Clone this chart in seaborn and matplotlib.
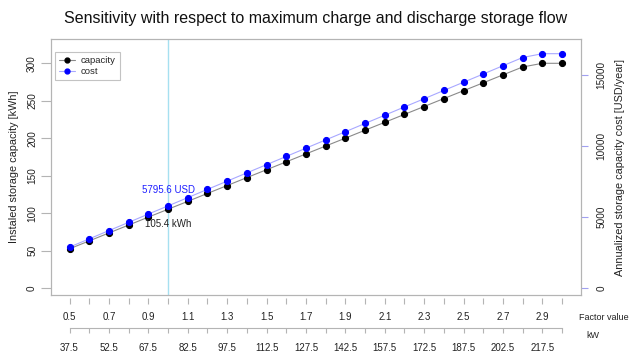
import numpy as np
import pandas as pd
import matplotlib
matplotlib.use("Agg")
import matplotlib.pyplot as plt
from matplotlib.lines import Line2D
import seaborn as sns

# ---------------- data ----------------
factor = [0.5, 0.6, 0.7, 0.8, 0.9, 1.0, 1.1, 1.2, 1.3, 1.4, 1.5, 1.6, 1.7,
          1.8, 1.9, 2.0, 2.1, 2.2, 2.3, 2.4, 2.5, 2.6, 2.7, 2.8, 2.9, 3.0]
capacity_kwh = [52.7, 63.2, 73.8, 84.3, 94.9, 105.4, 115.9, 126.5, 137.0,
                147.6, 158.1, 168.6, 179.2, 189.7, 200.2, 210.8, 221.3,
                231.9, 242.4, 253.0, 263.5, 274.0, 284.6, 295.1, 300.0, 300.0]
cost_usd = [2898, 3476, 4059, 4637, 5220, 5795.6, 6375, 6958, 7535, 8118,
            8696, 9273, 9856, 10434, 11011, 11594, 12172, 12755, 13332,
            13915, 14493, 15070, 15653, 16231, 16500, 16500]
factor_tick_labels = ["0.5", "", "0.7", "", "0.9", "", "1.1", "", "1.3", "",
                      "1.5", "", "1.7", "", "1.9", "", "2.1", "", "2.3", "",
                      "2.5", "", "2.7", "", "2.9", ""]
kw_tick_labels = ["37.5", "", "52.5", "", "67.5", "", "82.5", "", "97.5", "",
                  "112.5", "", "127.5", "", "142.5", "", "157.5", "", "172.5", "",
                  "187.5", "", "202.5", "", "217.5", ""]
left_ticks = [0, 50, 100, 150, 200, 250, 300]
right_ticks = [0, 5000, 10000, 15000]
sel_factor = 1.0
sel_capacity = 105.4
sel_cost = 5795.6

df = pd.DataFrame({"factor": factor, "capacity": capacity_kwh, "cost": cost_usd})

# ---------------- style ----------------
sns.set_theme(style="white")
plt.rcParams["font.family"] = ["Liberation Sans", "DejaVu Sans"]

W, H = 629, 352
fig = plt.figure(figsize=(W / 100, H / 100), dpi=100)
L, R, T, B = 51, 581, 39, 295
ax = fig.add_axes([L / W, 1 - B / H, (R - L) / W, (B - T) / H])
ax2 = ax.twinx()

box_col = "#b4b4b4"
cap_line = "#8a8a8a"
cost_line = "#a8a8ff"
vline_col = "#a6e0f0"

# vertical reference line
ax.axvline(sel_factor, color=vline_col, lw=1.0, zorder=0)

sns.lineplot(data=df, x="factor", y="capacity", ax=ax, color=cap_line, lw=0.8,
             marker="o", markersize=4.4, markerfacecolor="black",
             markeredgecolor="black", zorder=3)
sns.lineplot(data=df, x="factor", y="cost", ax=ax2, color=cost_line, lw=0.8,
             marker="o", markersize=4.4, markerfacecolor="#0000ff",
             markeredgecolor="#0000ff", zorder=3)

ax.set_xlim(0.406, 3.096)
ax.set_ylim(-8.93, 332.4)
ax2.set_ylim(-471, 17532)

for a in (ax, ax2):
    for s in a.spines.values():
        s.set_color(box_col)
        s.set_linewidth(0.8)

# y axes
ax.set_yticks(left_ticks)
ax.set_yticklabels([str(v) for v in left_ticks])
ax.tick_params(axis="y", left=True, length=7, width=0.8, color=box_col, pad=3,
               labelsize=7.2, labelrotation=90, labelcolor="#222222")
for t in ax.get_yticklabels():
    t.set_va("center")
ax2.set_yticks(right_ticks)
ax2.set_yticklabels([str(v) for v in right_ticks])
ax2.tick_params(axis="y", right=True, length=5, width=0.8, color="#a0a0f0", pad=6,
                labelsize=7.2, labelrotation=90, labelcolor="#222222")
for t in ax2.get_yticklabels():
    t.set_va("center")

ax.set_ylabel("Instaled storage capacity [kWh]", fontsize=7.8, color="#222222")
ax.yaxis.set_label_coords((19.3 - L) / (R - L), 0.5)
ax2.set_ylabel("Annualized storage capacity cost [USD/year]", fontsize=7.8,
               color="#222222", rotation=90)
ax2.yaxis.set_label_coords((615 - L) / (R - L), 0.5)

# x axes (two rows)
ax.tick_params(axis="x", bottom=False, labelbottom=False)
ax2.tick_params(axis="x", bottom=False, labelbottom=False)
ax.set_xlabel("")
ax2.set_xlabel("")

s1 = ax.secondary_xaxis(-3 / (B - T))
s1.set_ticks(factor, labels=factor_tick_labels)
s1.spines["bottom"].set_visible(False)
s1.tick_params(axis="x", length=4.3, width=0.8, color=box_col, pad=6,
               labelsize=7.0, labelcolor="#222222")

s2 = ax.secondary_xaxis(-(328 - B) / (B - T))
s2.set_ticks(factor, labels=kw_tick_labels)
s2.spines["bottom"].set_color(box_col)
s2.spines["bottom"].set_linewidth(0.8)
s2.spines["bottom"].set_bounds(factor[0], factor[-1])
s2.tick_params(axis="x", length=3.6, width=0.8, color=box_col, pad=7,
               labelsize=7.0, labelcolor="#222222")

fig.text(579 / W, 1 - 317 / H, "Factor value", ha="left", va="center",
         fontsize=6.5, color="#222222")
fig.text(593 / W, 1 - 335 / H, "kW", ha="center", va="center",
         fontsize=6.5, color="#222222")

# annotations
ax2.annotate(f"{sel_cost} USD", xy=(sel_factor, sel_cost), xytext=(0, 11.5),
             textcoords="offset points", ha="center", va="center",
             fontsize=7.0, color="#2020ff", zorder=5)
ax.annotate(f"{sel_capacity} kWh", xy=(sel_factor, sel_capacity), xytext=(0, -10.8),
            textcoords="offset points", ha="center", va="center",
            fontsize=7.0, color="#222222", zorder=5)

# legend
handles = [
    Line2D([], [], color=cap_line, lw=0.8, marker="o", markersize=3.5,
           markerfacecolor="black", markeredgecolor="black"),
    Line2D([], [], color=cost_line, lw=0.8, marker="o", markersize=3.5,
           markerfacecolor="#0000ff", markeredgecolor="#0000ff"),
]
if ax.get_legend():
    ax.get_legend().remove()
if ax2.get_legend():
    ax2.get_legend().remove()
leg = ax2.legend(handles, ["capacity", "cost"], loc="upper left",
                 bbox_to_anchor=((55 - L) / (R - L), (B - 51.7) / (B - T)),
                 fontsize=6.8, frameon=True, fancybox=False, borderpad=0.45,
                 handlelength=1.7, handletextpad=0.55, labelspacing=0.2,
                 borderaxespad=0)
leg.get_frame().set_edgecolor(box_col)
leg.get_frame().set_linewidth(0.8)

fig.text(316 / W, 1 - 19 / H,
         "Sensitivity with respect to maximum charge and discharge storage flow",
         ha="center", va="center", fontsize=11.5, color="#111111")

fig.savefig("out.png", dpi=100)
